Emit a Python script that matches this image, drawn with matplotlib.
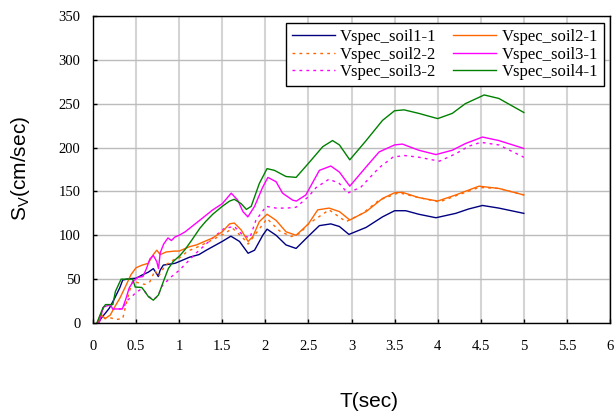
import matplotlib
matplotlib.use("Agg")
import matplotlib.pyplot as plt

# ---- data ----
t_soil1_1 = [0.06,0.10,0.15,0.19,0.25,0.31,0.345,0.42,0.50,0.566,0.643,0.70,0.74,0.758,0.778,0.816,0.95,1.0,1.12,1.23,1.315,1.50,1.60,1.70,1.80,1.875,1.97,2.02,2.125,2.24,2.357,2.50,2.627,2.76,2.86,2.97,3.17,3.36,3.50,3.63,3.78,3.98,4.21,4.36,4.52,4.71,5.0]
s_soil1_1 = [0,6,12,17,28,40,49,50.5,51,54.5,58,62,56,53,60,66,68,70,75,78,83,93,99,93,79.5,83,100,107,100,89,85,99,111,113,110,101,109,121,128,128,124,120,125,130,134,131,125]

t_soil2_1 = [0.05,0.09,0.14,0.20,0.25,0.31,0.384,0.44,0.50,0.57,0.64,0.70,0.74,0.78,0.85,0.95,1.0,1.12,1.20,1.39,1.50,1.585,1.64,1.72,1.80,1.855,1.93,2.02,2.125,2.24,2.357,2.50,2.608,2.74,2.86,2.98,3.17,3.36,3.50,3.59,3.78,4.0,4.21,4.48,4.71,5.0]
s_soil2_1 = [0,10,5,9,18,28,43,55,63,66,68,78,83,78,81,82,82,87,89,97,104,113,114,106,93,98.5,115.5,124,117,104,100,113,129,131,127,117.4,127,142,148.5,149,143,139,146,156,153.4,146]

t_soil2_2 = [0.05,0.09,0.14,0.20,0.27,0.345,0.38,0.42,0.46,0.52,0.60,0.66,0.72,0.76,0.84,0.95,1.0,1.1,1.2,1.39,1.527,1.62,1.74,1.80,1.89,2.02,2.164,2.30,2.40,2.50,2.74,2.936,3.13,3.32,3.55,3.78,4.02,4.21,4.48,4.71,5.0]
s_soil2_2 = [0,10,5,6,4,5,20,35,48,46,44,47,60,53,66,73,74,82,86,95,102,108,97,90,102,119,105,98.5,102,113,129,115.5,125,140,148.5,143,138,145,154.5,153.4,146]

t_soil3_1 = [0.07,0.12,0.20,0.23,0.34,0.38,0.42,0.47,0.52,0.58,0.62,0.66,0.70,0.74,0.76,0.78,0.82,0.87,0.91,0.95,1.0,1.07,1.237,1.39,1.50,1.604,1.68,1.74,1.797,1.875,1.97,2.03,2.125,2.20,2.318,2.36,2.47,2.627,2.76,2.86,2.98,3.17,3.32,3.50,3.59,3.78,3.98,4.17,4.32,4.52,4.71,5.0]
s_soil3_1 = [0,18,21,16,16,27,40,48,52,53,62,73,77,70,62,80,90,97,94,98,100,104,117,129,136,148,140,127,121,133,155,166,161,148,140,139,146,174,179,172,156,178,195,203,204,197,192,197,204.5,212,208,199]

t_soil3_2 = [0.07,0.12,0.20,0.23,0.34,0.40,0.45,0.50,0.55,0.60,0.65,0.70,0.75,0.80,0.90,0.95,1.0,1.1,1.2,1.39,1.527,1.64,1.74,1.82,1.89,2.01,2.125,2.25,2.357,2.50,2.59,2.74,2.86,2.955,3.11,3.32,3.48,3.61,3.78,4.02,4.21,4.36,4.50,4.71,5.0]
s_soil3_2 = [0,18,21,16,16,26,30,35,38,36,30,27,30,42,52,56,60,70,80,97,108,110,100,97,117,133,131,131,132,144,154.5,164,159,148,155,177,189,191,189,184.5,193,201.5,206,203,189]

t_soil4_1 = [0.045,0.114,0.145,0.23,0.26,0.326,0.46,0.49,0.566,0.604,0.643,0.70,0.76,0.816,0.874,0.93,1.01,1.07,1.15,1.24,1.31,1.39,1.50,1.585,1.64,1.72,1.78,1.836,1.93,2.02,2.106,2.24,2.357,2.50,2.666,2.78,2.86,2.98,3.17,3.36,3.50,3.61,3.78,4.0,4.17,4.32,4.54,4.71,5.0]
s_soil4_1 = [0,17,21,21,36,50,50,41,40.5,35.6,30,26,32,47,62,70,77,84,95,108,116,124,133,139,141,136,129.5,133,159,176,174,167,166,182,201,208,203,186,208,231,242,243,239,233,239,250,260,256,240]

x_ticks = [0, 0.5, 1, 1.5, 2, 2.5, 3, 3.5, 4, 4.5, 5, 5.5, 6]
x_tick_labels = ["0", "0.5", "1", "1.5", "2", "2.5", "3", "3.5", "4", "4.5", "5", "5.5", "6"]
y_ticks = [0, 50, 100, 150, 200, 250, 300, 350]

# ---- figure ----
fig = plt.figure(figsize=(6.16, 4.12), dpi=100)
ax = fig.add_axes([93/616, 1-323/412, (610-93)/616, (323-16)/412])

serif = ["Liberation Serif", "DejaVu Serif"]
sans = ["Liberation Sans", "DejaVu Sans"]

lw = 1.0
dot = (0, (2, 3))
l11, = ax.plot(t_soil1_1, s_soil1_1, color="#000080", lw=lw, label="Vspec_soil1-1")
l22, = ax.plot(t_soil2_2, s_soil2_2, color="#FF6600", lw=lw, ls=dot, label="Vspec_soil2-2")
l32, = ax.plot(t_soil3_2, s_soil3_2, color="#FF00FF", lw=lw, ls=dot, label="Vspec_soil3-2")
l21, = ax.plot(t_soil2_1, s_soil2_1, color="#FF6600", lw=lw, label="Vspec_soil2-1")
l31, = ax.plot(t_soil3_1, s_soil3_1, color="#FF00FF", lw=lw, label="Vspec_soil3-1")
l41, = ax.plot(t_soil4_1, s_soil4_1, color="#008000", lw=lw, label="Vspec_soil4-1")

ax.set_xlim(0, 6)
ax.set_ylim(0, 350)
ax.set_xticks(x_ticks)
ax.set_xticklabels(x_tick_labels, fontfamily=serif, fontsize=10.5)
ax.set_yticks(y_ticks)
ax.set_yticklabels([str(v) for v in y_ticks], fontfamily=serif, fontsize=10.5)
ax.tick_params(axis="x", direction="in", length=3, width=1, pad=12, color="black")
ax.tick_params(axis="y", direction="in", length=3, width=1, pad=9, color="black")

ax.set_axisbelow(True)
ax.xaxis.grid(True, color="#d4d4d4", lw=1.5)
ax.yaxis.grid(True, color="#bcbcbc", lw=1.0)
for sp in ax.spines.values():
    sp.set_color("black")
    sp.set_linewidth(1.0)

ax.set_xlabel("T(sec)", fontfamily=sans, fontsize=15)
ax.xaxis.set_label_coords(0.534, -0.225)
ax.set_ylabel(r"$\mathregular{S_V}$(cm/sec)", fontfamily=sans, fontsize=15)
ax.yaxis.set_label_coords(-0.118, 0.503)

leg = ax.legend(handles=[l11, l22, l32, l21, l31, l41], ncol=2, loc="upper right",
                bbox_to_anchor=(0.988, 0.977), borderaxespad=0, fancybox=False,
                edgecolor="black", framealpha=1, prop={"family": serif, "size": 12},
                handlelength=2.6, handletextpad=0.3, labelspacing=0.1,
                columnspacing=1.0, borderpad=0.35)
leg.get_frame().set_linewidth(1.0)

fig.savefig("out.png", dpi=100)
